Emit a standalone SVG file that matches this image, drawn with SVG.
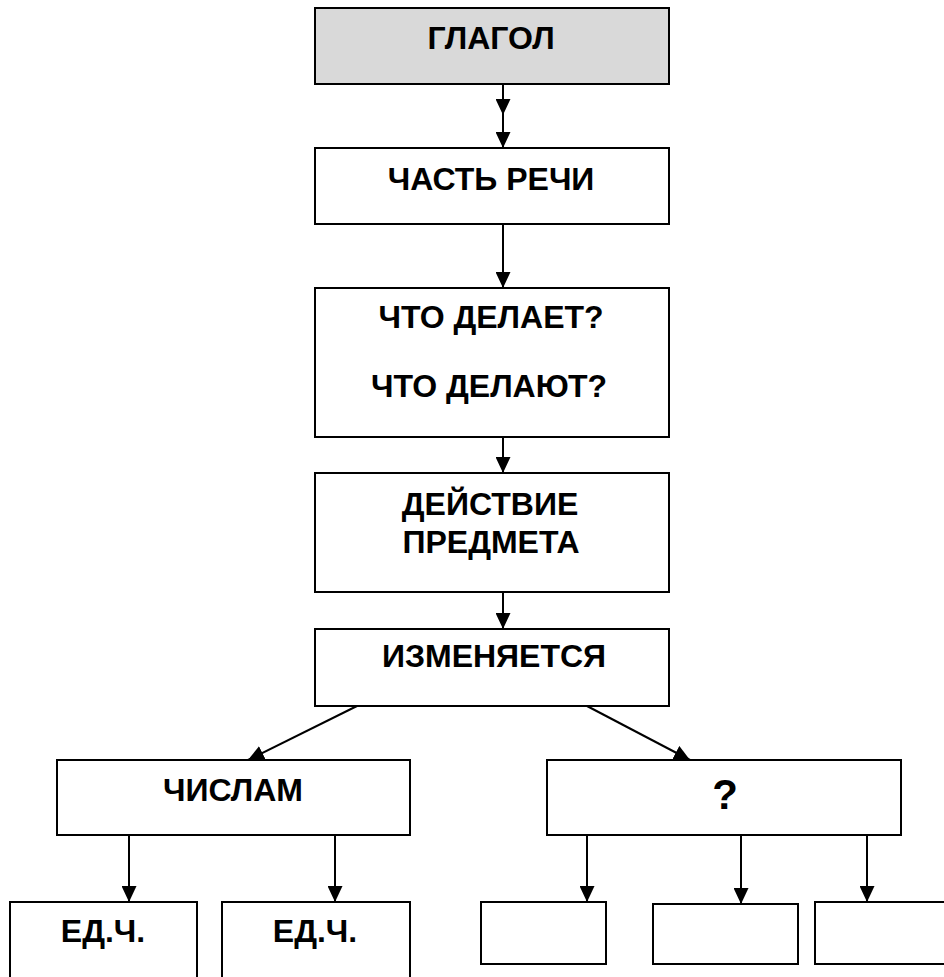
<svg xmlns="http://www.w3.org/2000/svg" width="944" height="977" viewBox="0 0 944 977">
<defs>
<marker id="arr" markerUnits="userSpaceOnUse" markerWidth="16" markerHeight="15" refX="16" refY="7.5" orient="auto" viewBox="0 0 16 15">
<path d="M0,0 L16,7.5 L0,15 z" fill="#000"/>
</marker>
</defs>
<style>
.box{fill:#fff;stroke:#000;stroke-width:2}
.gray{fill:#d9d9d9}
.t{font-family:"Liberation Sans",Arial,sans-serif;font-weight:bold;font-size:32px;fill:#000;text-anchor:middle}
.q{font-size:42px}
.c{fill:none;stroke:#000;stroke-width:2;marker-end:url(#arr)}
</style>
<rect width="944" height="977" fill="#fff"/>
<g id="connectors">
<path class="c" d="M503,84 L503,115 L503,148" style="marker-mid:url(#arr)"/>
<path class="c" d="M503,224 L503,288"/>
<path class="c" d="M503,437 L503,473"/>
<path class="c" d="M503,592 L503,629"/>
<path class="c" d="M357,706 L248,760"/>
<path class="c" d="M587,706 L690,760"/>
<path class="c" d="M129,835 L129,902"/>
<path class="c" d="M335,835 L335,902"/>
<path class="c" d="M587,835 L587,902"/>
<path class="c" d="M741,835 L741,904"/>
<path class="c" d="M867,835 L867,902"/>
</g>
<g id="n-glagol"><rect class="box gray" x="315" y="8" width="354" height="76"/><text class="t" x="491" y="49">ГЛАГОЛ</text></g>
<g id="n-chast"><rect class="box" x="315" y="148" width="354" height="76"/><text class="t" x="491" y="190">ЧАСТЬ РЕЧИ</text></g>
<g id="n-chto"><rect class="box" x="315" y="288" width="354" height="149"/><text class="t" x="491" y="328">ЧТО ДЕЛАЕТ?</text><text class="t" x="489" y="397">ЧТО ДЕЛАЮТ?</text></g>
<g id="n-deystvie"><rect class="box" x="315" y="473" width="354" height="119"/><text class="t" x="490" y="515">ДЕЙСТВИЕ</text><text class="t" x="491" y="553">ПРЕДМЕТА</text></g>
<g id="n-izm"><rect class="box" x="315" y="629" width="354" height="77"/><text class="t" x="494" y="667">ИЗМЕНЯЕТСЯ</text></g>
<g id="n-chislam"><rect class="box" x="57" y="760" width="353" height="75"/><text class="t" x="233" y="801">ЧИСЛАМ</text></g>
<g id="n-q"><rect class="box" x="547" y="760" width="354" height="75"/><text class="t q" x="725" y="809">?</text></g>
<g id="n-ed1"><rect class="box" x="10" y="902" width="187" height="90"/><text class="t" x="103" y="942">ЕД.Ч.</text></g>
<g id="n-ed2"><rect class="box" x="222" y="902" width="188" height="90"/><text class="t" x="315" y="942">ЕД.Ч.</text></g>
<g id="n-e1"><rect class="box" x="481" y="902" width="125" height="62"/></g>
<g id="n-e2"><rect class="box" x="653" y="904" width="145" height="60"/></g>
<g id="n-e3"><rect class="box" x="815" y="902" width="140" height="62"/></g>
</svg>
